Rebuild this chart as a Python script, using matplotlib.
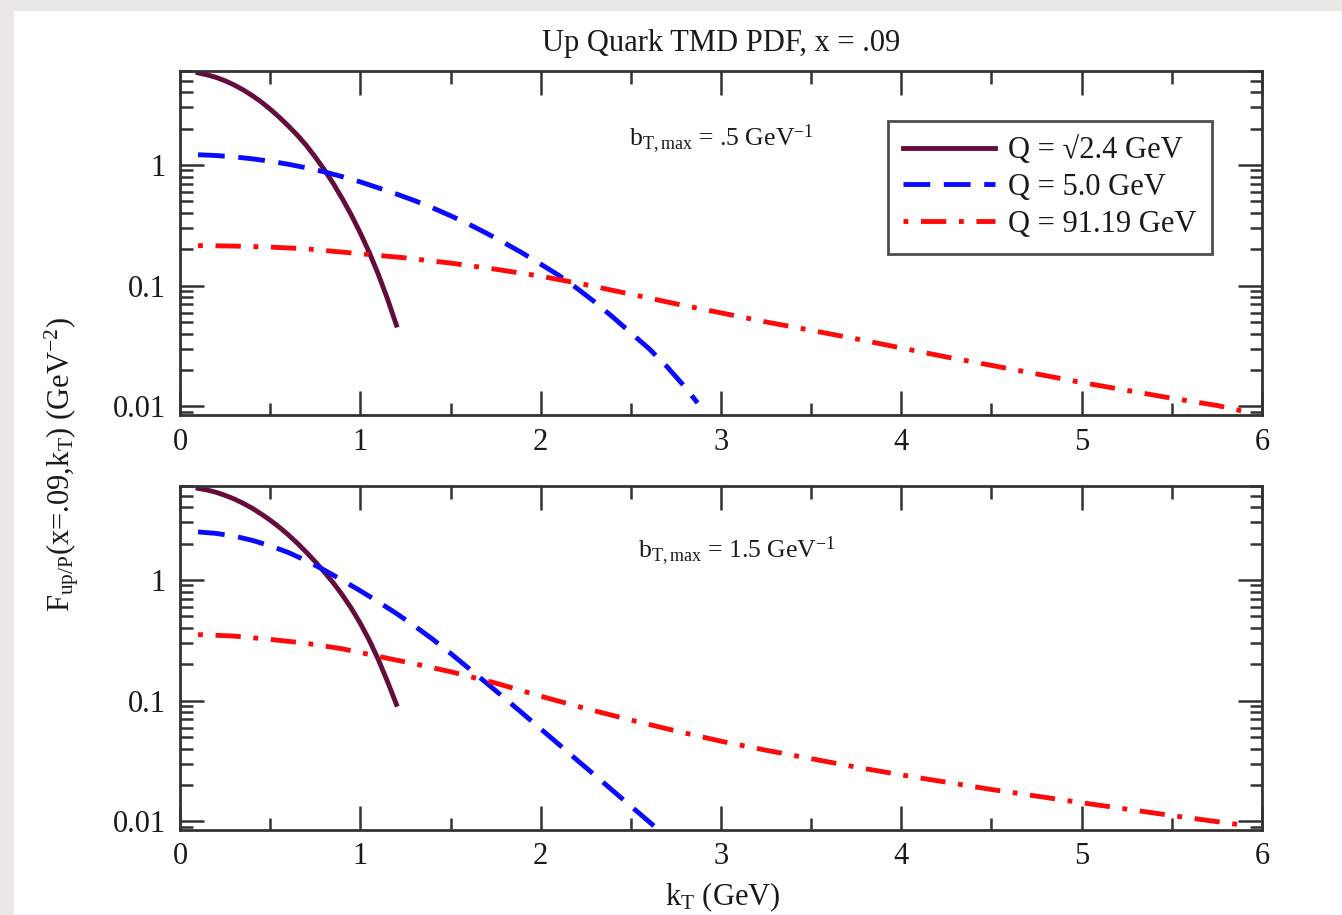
import matplotlib
matplotlib.use("Agg")
import matplotlib.pyplot as plt
from matplotlib.patches import Rectangle
from matplotlib.ticker import LogLocator, NullFormatter, FixedLocator, MultipleLocator

plt.rcParams['font.family'] = ['Liberation Serif', 'DejaVu Serif']
plt.rcParams['mathtext.fontset'] = 'custom'
plt.rcParams['mathtext.rm'] = 'Liberation Serif'
plt.rcParams['mathtext.it'] = 'Liberation Serif:italic'
plt.rcParams['mathtext.bf'] = 'Liberation Serif:bold'

# ---------------- data ----------------
title = "Up Quark TMD PDF, x = .09"
legend_labels = ["Q = √2.4 GeV", "Q = 5.0 GeV", "Q = 91.19 GeV"]
panel_notes = [r"b$_{\mathrm{T,max}}$ = .5 GeV$^{\mathrm{-1}}$",
               r"b$_{\mathrm{T,max}}$ = 1.5 GeV$^{\mathrm{-1}}$"]
x_label = r"k$_{\mathrm{T}}$ (GeV)"
y_label = r"F$_{\mathrm{up/P}}$(x=.09,k$_{\mathrm{T}}$) (GeV$^{\mathrm{-2}}$)"

# top panel: b_T,max = 0.5 GeV^-1
kt_top_q1 = [0.1, 0.15, 0.2, 0.25, 0.3, 0.35, 0.4, 0.45, 0.5, 0.55, 0.6, 0.65, 0.7, 0.75,
             0.8, 0.85, 0.9, 0.95, 1.0, 1.05, 1.1, 1.15, 1.2]
f_top_q1 = [5.79, 5.58, 5.31, 4.98, 4.60, 4.19, 3.76, 3.33, 2.90, 2.49, 2.11, 1.77, 1.454,
            1.164, 0.914, 0.702, 0.526, 0.385, 0.273, 0.188, 0.124, 0.0783, 0.0472]

kt_top_q2 = [0.1, 0.2, 0.3, 0.4, 0.5, 0.6, 0.7, 0.8, 0.9, 1.0, 1.1, 1.2, 1.3, 1.4,
             1.5, 1.6, 1.7, 1.8, 1.9, 2.0, 2.1, 2.2, 2.3, 2.4, 2.5, 2.6, 2.7, 2.8, 2.87]
f_top_q2 = [1.216, 1.197, 1.167, 1.125, 1.074, 1.014, 0.948, 0.877, 0.80, 0.724, 0.646,
            0.575, 0.507, 0.442, 0.38, 0.324, 0.272, 0.226, 0.186, 0.151, 0.122, 0.0955,
            0.0733, 0.055, 0.0407, 0.0302, 0.0214, 0.0145, 0.0107]

kt_top_q3 = [0.1, 0.3, 0.5, 0.7, 1.0, 1.25, 1.5, 1.75, 2.0, 2.25, 2.5, 2.75, 3.0, 3.25,
             3.5, 3.75, 4.0, 4.25, 4.5, 4.75, 5.0, 5.25, 5.5, 5.75, 5.9]
f_top_q3 = [0.215, 0.213, 0.209, 0.202, 0.184, 0.170, 0.154, 0.137, 0.120, 0.102, 0.0851,
            0.0708, 0.0596, 0.0501, 0.0427, 0.0363, 0.0305, 0.0257, 0.0219, 0.0186, 0.0158,
            0.0136, 0.0117, 0.0102, 0.0091]

# bottom panel: b_T,max = 1.5 GeV^-1
kt_bot_q1 = [0.1, 0.15, 0.2, 0.25, 0.3, 0.35, 0.4, 0.45, 0.5, 0.55, 0.6, 0.65, 0.7, 0.75,
             0.8, 0.85, 0.9, 0.95, 1.0, 1.05, 1.1, 1.15, 1.2]
f_bot_q1 = [5.74, 5.56, 5.32, 5.02, 4.69, 4.32, 3.93, 3.52, 3.13, 2.74, 2.37, 2.02, 1.70,
            1.416, 1.164, 0.946, 0.752, 0.583, 0.437, 0.316, 0.219, 0.145, 0.0933]

kt_bot_q2 = [0.1, 0.2, 0.3, 0.4, 0.5, 0.6, 0.7, 0.8, 0.9, 1.0, 1.1, 1.2, 1.3, 1.4,
             1.5, 1.6, 1.7, 1.8, 1.9, 2.0, 2.1, 2.2, 2.3, 2.4, 2.5, 2.6, 2.7]
f_bot_q2 = [2.50, 2.43, 2.31, 2.13, 1.92, 1.69, 1.445, 1.208, 0.995, 0.813, 0.659, 0.528,
            0.417, 0.324, 0.247, 0.186, 0.140, 0.105, 0.0785, 0.0585, 0.0436, 0.0324,
            0.0242, 0.0180, 0.0134, 0.00998, 0.00743]

kt_bot_q3 = [0.1, 0.3, 0.5, 0.7, 0.9, 1.1, 1.3, 1.5, 1.75, 2.0, 2.25, 2.5, 2.75, 3.0,
             3.25, 3.5, 3.75, 4.0, 4.5, 5.0, 5.5, 5.9]
f_bot_q3 = [0.353, 0.343, 0.322, 0.299, 0.269, 0.233, 0.202, 0.174, 0.140, 0.109, 0.0861,
            0.0692, 0.0562, 0.0462, 0.0389, 0.0331, 0.0282, 0.0243, 0.0184, 0.0143, 0.0112,
            0.0093]

x_ticks = [0, 1, 2, 3, 4, 5, 6]
y_ticks = [0.01, 0.1, 1]
y_ticklabels = ["0.01", "0.1", "1"]

# ---------------- styling ----------------
c_purple = "#650b3e"
c_blue = "#0a0aff"
c_red = "#ff0a0a"
lw = 3.5
st_q1 = dict(color=c_purple, lw=lw, linestyle='-')
st_q2 = dict(color=c_blue, lw=lw, linestyle=(0, (5.5, 2.8)), dash_capstyle='butt')
st_q3 = dict(color=c_red, lw=lw, linestyle=(0, (1.0, 2.6, 5.2, 2.6)), dash_capstyle='butt')

W, H = 1342, 915
fig = plt.figure(figsize=(W / 100, H / 100), dpi=100)
fig.patch.set_facecolor("#e9e8e4")
bg = Rectangle((14 / W, 0), 1 - 14 / W, 1 - 11 / H, transform=fig.transFigure,
               facecolor="white", edgecolor="none", zorder=-10)
fig.patches.append(bg)

ax_l, ax_w = 180 / W, 1082 / W
ax_h = 344 / H
ax1 = fig.add_axes([ax_l, 1 - 415 / H, ax_w, ax_h])
ax2 = fig.add_axes([ax_l, 1 - 830 / H, ax_w, ax_h])

fs = 22
spine_c = "#333333"
txt_c = "#1a1a1a"
for ax in (ax1, ax2):
    ax.set_zorder(1)
    ax.set_yscale('log')
    ax.set_xlim(0, 6)
    ax.set_ylim(0.0085, 6.0)
    ax.xaxis.set_major_locator(FixedLocator(x_ticks))
    ax.xaxis.set_minor_locator(MultipleLocator(0.5))
    ax.yaxis.set_major_locator(FixedLocator(y_ticks))
    ax.yaxis.set_minor_locator(LogLocator(base=10, subs=range(2, 10)))
    ax.yaxis.set_minor_formatter(NullFormatter())
    ax.set_yticklabels(y_ticklabels)
    ax.set_xticklabels([str(t) for t in x_ticks])
    ax.tick_params(which='both', direction='in', top=True, right=True, color=spine_c,
                   labelsize=fs, labelcolor=txt_c)
    ax.tick_params(which='major', length=17, width=1.8)
    ax.tick_params(which='minor', length=9, width=1.8)
    ax.tick_params(axis='y', which='major', pad=10)
    ax.tick_params(axis='x', which='major', pad=9)
    for s in ax.spines.values():
        s.set_linewidth(2.0)
        s.set_color(spine_c)

ax1.plot(kt_top_q1, f_top_q1, label=legend_labels[0], **st_q1)
ax1.plot(kt_top_q2, f_top_q2, label=legend_labels[1], **st_q2)
ax1.plot(kt_top_q3, f_top_q3, label=legend_labels[2], **st_q3)

ax2.plot(kt_bot_q1, f_bot_q1, **st_q1)
ax2.plot(kt_bot_q2, f_bot_q2, **st_q2)
ax2.plot(kt_bot_q3, f_bot_q3, **st_q3)

ax1.text(0.50, 0.80, panel_notes[0], transform=ax1.transAxes, fontsize=18.5,
         ha='center', va='center', color=txt_c)
ax2.text(0.515, 0.81, panel_notes[1], transform=ax2.transAxes, fontsize=18.5,
         ha='center', va='center', color=txt_c)

leg = ax1.legend(loc='upper left', bbox_to_anchor=(0.654, 0.855), fontsize=fs,
                 frameon=True, fancybox=False, handlelength=3.0, handletextpad=0.45,
                 borderpad=0.5, labelspacing=0.25, borderaxespad=0)
leg.get_frame().set_edgecolor("#222222")
leg.get_frame().set_linewidth(2.0)
for t in leg.get_texts():
    t.set_color(txt_c)

fig.text(721 / W, 1 - 44 / H, title, ha='center', va='center', fontsize=fs, color=txt_c)
fig.text(723 / W, 1 - 897 / H, x_label, ha='center', va='center', fontsize=fs, color=txt_c)
fig.text(62 / W, 1 - 465 / H, y_label, ha='center', va='center', rotation=90,
         fontsize=fs, color=txt_c)

fig.savefig("out.png", dpi=100, facecolor=fig.get_facecolor())
